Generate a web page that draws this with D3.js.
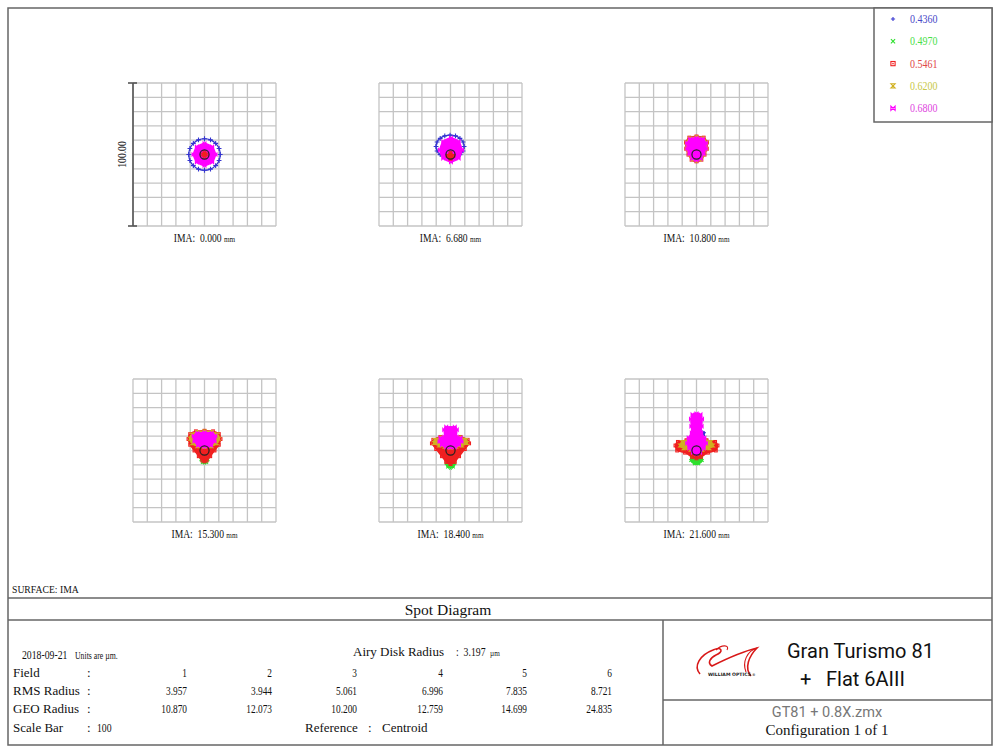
<!DOCTYPE html>
<html>
<head>
<meta charset="utf-8">
<script src="https://cdn.jsdelivr.net/npm/d3@7/dist/d3.min.js"></script>
<style>
  body { margin: 0; background: #fff; }
  svg { display: block; }
</style>
</head>
<body>
<script>
// wavelengths (um) and colours used for the rays
var wavelengths = ["0.4360", "0.4970", "0.5461", "0.6200", "0.6800"];
var wlColors = ["#3434d0", "#2ee02e", "#f02020", "#d0b020", "#ff00ff"];
var legendColors = ["#4848c8", "#48e048", "#e04848", "#c8c848", "#e048e0"];

// fields
var fieldNums = ["1", "2", "3", "4", "5", "6"];
var imaLabels = ["0.000", "6.680", "10.800", "15.300", "18.400", "21.600"];
var rmsRadius = ["3.957", "3.944", "5.061", "6.996", "7.835", "8.721"];
var geoRadius = ["10.870", "12.073", "10.200", "12.759", "14.699", "24.835"];
var airyRadius = 3.197;
var scaleBar = 100;

// spot outlines, in um relative to the centroid (y up)
var spot1 = [
  {wl: 0, kind: "ring", pts: [[11,0],[10.2,4.2],[7.8,7.8],[4.2,10.2],[0,11],[-4.2,10.2],[-7.8,7.8],[-10.2,4.2],[-11,0],[-10.2,-4.2],[-7.8,-7.8],[-4.2,-10.2],[0,-11],[4.2,-10.2],[7.8,-7.8],[10.2,-4.2]]},
  {wl: 4, kind: "fill", pts: [[7.7,0],[5.4,5.4],[0,7.7],[-5.4,5.4],[-7.7,0],[-5.4,-5.4],[0,-7.7],[5.4,-5.4]]},
  {wl: 2, kind: "fill", pts: [[1.5,0],[0,1.5],[-1.5,0],[0,-1.5]]}
];
var spot2 = [
  {wl: 0, kind: "ring", pts: [[9.5,5.6],[8.8,8.7],[6.6,11.3],[3.5,13.0],[-0.3,13.6],[-4.0,13.0],[-7.2,11.3],[-9.4,8.7],[-10.1,5.6],[-9.4,2.5],[-7.2,-0.1],[-4.0,-1.8],[-0.3,-2.4],[3.5,-1.8],[6.6,-0.1],[8.8,2.5]]},
  {wl: 4, kind: "fill", pts: [[8,3.2],[5.7,9.1],[0.3,11.6],[-5.1,9.1],[-7.4,3.2],[-5.1,-2.7],[0.3,-5.2],[5.7,-2.7]]},
  {wl: 2, kind: "fill", pts: [[2,-1],[0,1],[-2,-1],[0,-3]]}
];
var spot3 = [
  {wl: 2, kind: "fill", pts: [[0,12.6],[5,11.8],[7.3,8.5],[7.2,4],[5.6,0],[3.4,-3.6],[0,-4.8],[-3.4,-3.6],[-5.6,0],[-7.2,4],[-7.3,8.5],[-5,11.8]]},
  {wl: 3, kind: "fill", pts: [[0,12.1],[4.7,11.3],[6.9,8.3],[6.8,4],[5.2,0.2],[3.1,-3.3],[0,-4.4],[-3.1,-3.3],[-5.2,0.2],[-6.8,4],[-6.9,8.3],[-4.7,11.3]]},
  {wl: 4, kind: "fill", pts: [[0,11.5],[4.4,10.8],[6.5,8],[6.4,4],[4.9,0.4],[2.9,-3],[0,-4],[-2.9,-3],[-4.9,0.4],[-6.4,4],[-6.5,8],[-4.4,10.8]]}
];
var spot4 = [
  {wl: 1, kind: "fill", pts: [[0,-5],[2.5,-6.5],[1.5,-8.3],[0,-8.8],[-1.5,-8.3],[-2.5,-6.5]]},
  {wl: 2, kind: "fill", pts: [[0,13.8],[6,13.4],[10,11.5],[11.2,8],[10,4],[7,0],[4,-4],[1.5,-7],[0,-7.6],[-1.5,-7],[-4,-4],[-7,0],[-10,4],[-11.2,8],[-10,11.5],[-6,13.4]]},
  {wl: 3, kind: "fill", pts: [[0,13.4],[5.5,13],[9,11.2],[10,8.2],[8.6,5],[5,3],[0,2.5],[-5,3],[-8.6,5],[-10,8.2],[-9,11.2],[-5.5,13]]},
  {wl: 4, kind: "fill", pts: [[0,12.6],[5,12.2],[7.6,10.2],[7,6.5],[4.5,3.5],[0,2.6],[-4.5,3.5],[-7,6.5],[-7.6,10.2],[-5,12.2]]}
];
var spot5 = [
  {wl: 1, kind: "fill", pts: [[0,-7],[3,-9],[2,-11.5],[0,-12.3],[-2,-11.5],[-3,-9]]},
  {wl: 2, kind: "fill", pts: [[0,10],[7,9.5],[12,7.5],[13,5],[10,1],[6,-4],[3,-8],[0,-9.5],[-3,-8],[-6,-4],[-10,1],[-13,5],[-12,7.5],[-7,9.5]]},
  {wl: 3, kind: "fill", pts: [[0,9.6],[6.5,9.2],[11,7.3],[11.5,5.2],[8,3.5],[4,2.5],[0,2],[-4,2.5],[-8,3.5],[-11.5,5.2],[-11,7.3],[-6.5,9.2]]},
  {wl: 4, kind: "fill", pts: [[-3,16.4],[3,16.4],[4.4,14.5],[4.2,9.5],[7,8.9],[7.7,6.2],[6,3.9],[3,2.3],[0,2],[-3,2.3],[-6,3.9],[-7.7,6.2],[-7,8.9],[-4.2,9.5],[-4.4,14.5]]}
];
var spot6 = [
  {wl: 1, kind: "fill", pts: [[0,-2],[3.5,-4],[4,-7],[1.5,-9.3],[-1.5,-9.3],[-4,-7],[-3.5,-4]]},
  {wl: 2, kind: "fill", pts: [[0,7.5],[7,7.2],[13,6],[14.7,3.5],[13.5,0],[8,-1.5],[3,-4.5],[0,-5.5],[-3,-4.5],[-8,-1.5],[-13.5,0],[-14.7,3.5],[-13,6],[-7,7.2]]},
  {wl: 3, kind: "fill", pts: [[0,8],[5,7.5],[10,6],[11.5,3.5],[9,1.5],[4,0.5],[-4,0.5],[-9,1.5],[-11.5,3.5],[-10,6],[-5,7.5]]},
  {wl: 0, kind: "fill", pts: [[3.5,13.5],[5.5,12.5],[5,10.5],[3.5,11]]},
  {wl: 4, kind: "fill", pts: [[0,25.8],[2.8,25.2],[3.9,22],[3.6,17],[3.3,12.5],[5.5,9],[6.5,5],[5,1.5],[2.5,-1.5],[0,-2.5],[-2.5,-1.5],[-5,1.5],[-6.5,5],[-5.5,9],[-3.3,12.5],[-3.6,17],[-3.9,22],[-2.8,25.2]]}
];
var spots = [spot1, spot2, spot3, spot4, spot5, spot6];

var W = 1000, H = 754;
var svg = d3.select("body").append("svg").attr("width", W).attr("height", H);
svg.append("rect").attr("width", W).attr("height", H).attr("fill", "#fff");

function txt(g, x, y, s, o) {
  o = o || {};
  return g.append("text")
    .attr("transform", "translate(" + x + "," + y + ") scale(" + (o.sx || 1) + ",1)")
    .attr("text-anchor", o.anchor || "start")
    .style("font-family", o.font || "'Liberation Serif', serif")
    .style("font-size", (o.size || 12) + "px")
    .style("font-weight", o.weight || "normal")
    .style("white-space", "pre")
    .attr("fill", o.color || "#111")
    .text(s);
}

// marker shapes per wavelength, centred on 0,0
function marker(g, wl, x, y, s) {
  var c = wlColors[wl];
  var m = g.append("g").attr("transform", "translate(" + x + "," + y + ")");
  if (wl === 0) {
    m.append("path").attr("d", "M" + -s + ",0H" + s + "M0," + -s + "V" + s).attr("stroke", c).attr("stroke-width", 1.1);
  } else if (wl === 1) {
    m.append("path").attr("d", "M" + -s + "," + -s + "L" + s + "," + s + "M" + -s + "," + s + "L" + s + "," + -s).attr("stroke", c).attr("stroke-width", 1.1);
  } else if (wl === 2) {
    m.append("rect").attr("x", -s).attr("y", -s).attr("width", 2 * s).attr("height", 2 * s).attr("fill", "none").attr("stroke", c).attr("stroke-width", 1.1);
    m.append("rect").attr("x", -s / 3).attr("y", -s / 3).attr("width", s / 1.5).attr("height", s / 1.5).attr("fill", c);
  } else if (wl === 3) {
    m.append("path").attr("d", "M" + -s + "," + -s + "H" + s + "L" + -s + "," + s + "H" + s + "Z").attr("fill", "none").attr("stroke", c).attr("stroke-width", 1.1);
  } else {
    m.append("path").attr("d", "M" + -s + "," + -s + "V" + s + "L" + s + "," + -s + "V" + s + "Z").attr("fill", "none").attr("stroke", c).attr("stroke-width", 1.1);
  }
}

var frame = "#666";
function hline(x1, x2, y) {
  svg.append("line").attr("x1", x1).attr("x2", x2).attr("y1", y).attr("y2", y).attr("stroke", frame).attr("stroke-width", 1.5);
}
function vline(x, y1, y2) {
  svg.append("line").attr("x1", x).attr("x2", x).attr("y1", y1).attr("y2", y2).attr("stroke", frame).attr("stroke-width", 1.5);
}

// outer frame and dividers
svg.append("rect").attr("x", 8).attr("y", 8).attr("width", 984).attr("height", 737)
  .attr("fill", "none").attr("stroke", frame).attr("stroke-width", 1.5);
hline(8, 992, 598);
hline(8, 992, 620);
vline(663, 620, 745);
hline(663, 992, 700);

// spot panels
var boxSize = 143;
var grid = d3.range(-50, 51, 10);
spots.forEach(function(layers, i) {
  var left = 133 + (i % 3) * 246;
  var top = 83 + Math.floor(i / 3) * 296;
  var x = d3.scaleLinear().domain([-50, 50]).range([left, left + boxSize]);
  var y = d3.scaleLinear().domain([-50, 50]).range([top + boxSize, top]);
  var g = svg.append("g");

  g.selectAll("line.gx").data(grid).enter().append("line")
    .attr("x1", function(d) { return x(d); }).attr("x2", function(d) { return x(d); })
    .attr("y1", y(-50)).attr("y2", y(50))
    .attr("stroke", "#c4c4c4").attr("stroke-width", 1.3);
  g.selectAll("line.gy").data(grid).enter().append("line")
    .attr("y1", function(d) { return y(d); }).attr("y2", function(d) { return y(d); })
    .attr("x1", x(-50)).attr("x2", x(50))
    .attr("stroke", "#c4c4c4").attr("stroke-width", 1.3);

  var line = d3.line()
    .x(function(d) { return x(d[0]); })
    .y(function(d) { return y(d[1]); })
    .curve(d3.curveCardinalClosed.tension(0.3));

  layers.forEach(function(L) {
    if (L.kind === "ring") {
      g.append("path").attr("d", line(L.pts)).attr("fill", "none")
        .attr("stroke", wlColors[L.wl]).attr("stroke-width", 1.2);
      L.pts.forEach(function(p) { marker(g, L.wl, x(p[0]), y(p[1]), 2.4); });
    } else {
      g.append("path").attr("d", line(L.pts)).attr("fill", wlColors[L.wl])
        .attr("stroke", wlColors[L.wl]).attr("stroke-width", 1.5).attr("stroke-linejoin", "round");
      L.pts.forEach(function(p) { marker(g, L.wl, x(p[0]), y(p[1]), 1.4); });
    }
  });

  // airy disk
  g.append("circle").attr("cx", x(0)).attr("cy", y(0))
    .attr("r", x(airyRadius) - x(0))
    .attr("fill", "none").attr("stroke", "#222").attr("stroke-width", 1.2);

  var lab = txt(g, x(0), top + boxSize + 16, "", {anchor: "middle", size: 12, sx: 0.8});
  lab.append("tspan").text("IMA:\u00a0\u00a0" + imaLabels[i] + "\u00a0");
  lab.append("tspan").style("font-size", "9px").text("mm");

  if (i === 0) {
    var sb = d3.scaleLinear().domain([0, scaleBar]).range([top + boxSize, top]);
    g.append("line").attr("x1", left).attr("x2", left).attr("y1", sb(0)).attr("y2", sb(scaleBar))
      .attr("stroke", "#555").attr("stroke-width", 1.6);
    [0, scaleBar].forEach(function(v) {
      g.append("line").attr("x1", left - 5).attr("x2", left + 4).attr("y1", sb(v)).attr("y2", sb(v))
        .attr("stroke", "#555").attr("stroke-width", 1.6);
    });
    g.append("text")
      .attr("transform", "translate(" + (left - 7) + "," + sb(scaleBar / 2) + ") rotate(-90) scale(0.8,1)")
      .attr("text-anchor", "middle")
      .style("font-family", "'Liberation Serif', serif").style("font-size", "12px")
      .attr("fill", "#111").text("100.00");
  }
});

// legend
var lg = svg.append("g");
lg.append("rect").attr("x", 874).attr("y", 8).attr("width", 118).attr("height", 114)
  .attr("fill", "#fff").attr("stroke", frame).attr("stroke-width", 1.5);
wavelengths.forEach(function(w, i) {
  var yy = 19 + i * 22.3;
  marker(lg, i, 893, yy, 2.1);
  txt(lg, 910, yy + 4, w, {size: 12.5, sx: 0.8, color: legendColors[i]});
});

// surface / title
txt(svg, 12, 593, "SURFACE: IMA", {size: 11, sx: 0.88});
txt(svg, 448, 615, "Spot Diagram", {size: 15.5, anchor: "middle"});

// data table
var t = svg.append("g");
txt(t, 22, 659, "2018-09-21", {size: 13, sx: 0.75});
txt(t, 75, 659, "Units are \u00b5m.", {size: 10, sx: 0.78});
txt(t, 353, 656, "Airy Disk Radius", {size: 13});
txt(t, 456, 656, ":\u00a0\u00a03.197", {size: 13, sx: 0.75});
txt(t, 490, 656, "\u00b5m", {size: 9, sx: 0.8});

var rowY = [677, 695, 713, 732];
var rowLabels = ["Field", "RMS Radius", "GEO Radius", "Scale Bar"];
var colX = [187, 272, 357, 443, 527, 612];
rowLabels.forEach(function(s, r) {
  txt(t, 13, rowY[r], s, {size: 13});
  txt(t, 87, rowY[r], ":", {size: 13});
});
txt(t, 97, rowY[3], String(scaleBar), {size: 13, sx: 0.75});
[fieldNums, rmsRadius, geoRadius].forEach(function(arr, r) {
  arr.forEach(function(v, c) {
    txt(t, colX[c], rowY[r], v, {size: 13, sx: 0.72, anchor: "end"});
  });
});
txt(t, 305, rowY[3], "Reference", {size: 13});
txt(t, 368, rowY[3], ":", {size: 13});
txt(t, 382, rowY[3], "Centroid", {size: 13});

// right panel: logo and lens description
var logo = svg.append("g");
logo.append("path")
  .attr("d", "M700,674 C693,666 700,655 713,650 C722,646 724,652 716,655 C710,658 707,663 712,666 C724,660 740,652 757,648 C749,656 744,668 751,676")
  .attr("fill", "none").attr("stroke", "#d81818").attr("stroke-width", 1.6);
logo.append("path")
  .attr("d", "M716,650 C722,644 730,645 727,650 M757,648 C747,651 742,662 746,672")
  .attr("fill", "none").attr("stroke", "#d81818").attr("stroke-width", 1.1);
logo.append("text").attr("x", 708).attr("y", 675.5)
  .style("font-family", "'DejaVu Sans', sans-serif").style("font-size", "4.6px").style("font-weight", "bold")
  .attr("fill", "#222").text("WILLIAM OPTICS");
logo.append("text").attr("x", 752).attr("y", 675.5)
  .style("font-family", "'DejaVu Sans', sans-serif").style("font-size", "3.5px")
  .attr("fill", "#222").text("\u00ae");

var sans = "'Roboto', 'DejaVu Sans', sans-serif";
txt(svg, 787, 658, "Gran Turismo 81", {size: 20, font: sans});
txt(svg, 800, 686, "+", {size: 20, font: sans});
txt(svg, 826, 686, "Flat 6AIII", {size: 20, font: sans});
txt(svg, 827, 717, "GT81 + 0.8X.zmx", {size: 14.5, anchor: "middle", color: "#777", font: sans});
txt(svg, 827, 735, "Configuration 1 of 1", {size: 15, anchor: "middle"});
</script>
</body>
</html>
